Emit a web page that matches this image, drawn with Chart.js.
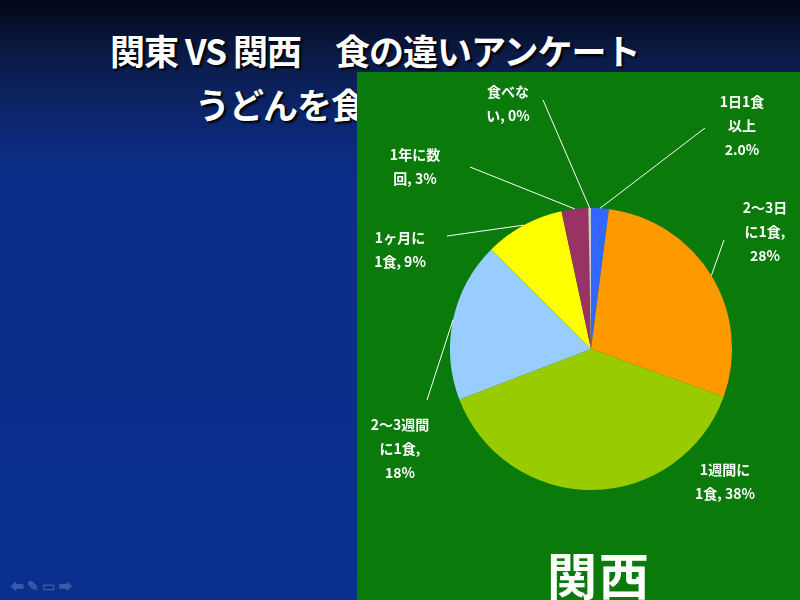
<!DOCTYPE html>
<html><head><meta charset="utf-8">
<script src="https://cdn.jsdelivr.net/npm/chart.js@4/dist/chart.umd.min.js"></script>
<style>
body{margin:0;width:800px;height:600px;overflow:hidden;position:relative;
background:linear-gradient(#020817 0px,#0b1c4a 60px,#0c2d86 160px,#0a2f8f 600px);font-family:"Noto Sans CJK JP",sans-serif;}
.t{position:absolute;color:#fff;font-weight:bold;text-shadow:2px 2px 2px #000;white-space:nowrap}
#panel{position:absolute;left:357px;top:72px;width:443px;height:528px;background:#0a7a0a}
#big{position:absolute;left:190px;top:465px;color:#fff;font-size:50px;font-weight:bold;letter-spacing:2px}
</style></head><body>
<div class="t" style="left:110px;top:24px;font-size:35px;letter-spacing:-1px">関東 VS 関西　食の違いアンケート</div>
<div class="t" style="left:195px;top:78px;font-size:35px;letter-spacing:-1px">うどんを食べる頻度</div>
<div class="t" style="left:10px;top:575px;font-size:14px;color:#3a5aa8;text-shadow:none">⬅ ✎ ▭ ➡</div>
<div id="panel"><canvas id="c" width="443" height="528"></canvas><div id="big">関西</div></div>
<script>
const categories=["1日1食以上","2～3日に1食","1週間に1食","2～3週間に1食","1ヶ月に1食","1年に数回","食べない"];
const values=[2,28,38,18,9,3,0.3];
const labelTexts=[["1日1食","以上","2.0%"],["2～3日","に1食,","28%"],["1週間に","1食, 38%"],["2～3週間","に1食,","18%"],["1ヶ月に","1食, 9%"],["1年に数","回, 3%"],["食べな","い, 0%"]];
const colors=["#3366ff","#ff9900","#99cc00","#99ccff","#ffff00","#993366","#cccccc"];
const labelPos=[[385,30,[348,56]],[408,136,[367,168]],[368,398,null],[43,353,[70,328]],[43,166,[90,164]],[58,83,[113,95]],[151,20,[186,28]]];
const labelPlugin={id:'lbl',afterDraw(chart){
 const ctx=chart.ctx;const arcs=chart.getDatasetMeta(0).data;
 ctx.save();ctx.fillStyle='#fff';ctx.strokeStyle='#fff';ctx.lineWidth=1;
 ctx.font='bold 14px "Noto Sans CJK JP"';ctx.textAlign='center';ctx.textBaseline='middle';
 arcs.forEach((a,i)=>{
  const [lx,ly,ls]=labelPos[i];
  labelTexts[i].forEach((s,k)=>ctx.fillText(s,lx,ly+k*24));
  if(ls){const m=(a.startAngle+a.endAngle)/2;const r=a.outerRadius;
   ctx.beginPath();ctx.moveTo(ls[0],ls[1]);ctx.lineTo(a.x+Math.cos(m)*r,a.y+Math.sin(m)*r);ctx.stroke();}
 });ctx.restore();}};
new Chart(document.getElementById('c'),{type:'pie',
 data:{labels:categories,datasets:[{data:values,backgroundColor:colors,borderWidth:0}]},
 options:{responsive:false,animation:false,layout:{padding:{left:93,right:68,top:136,bottom:110}},
  plugins:{legend:{display:false},tooltip:{enabled:false}}},plugins:[labelPlugin]});
</script></body></html>
